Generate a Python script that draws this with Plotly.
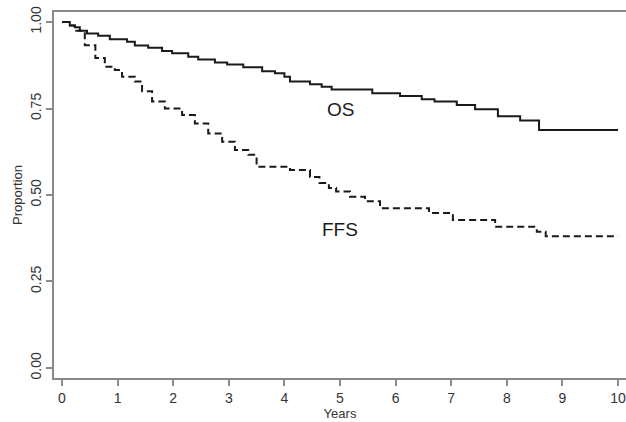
import plotly.graph_objects as go

# Kaplan-Meier step estimates
os_years = [0, 0.14, 0.23, 0.32, 0.45, 0.65, 0.86, 1.17, 1.31, 1.55, 1.8, 1.98, 2.27, 2.45, 2.75, 2.97,
            3.26, 3.6, 3.83, 4.0, 4.1, 4.46, 4.67, 4.85, 5.58, 6.08, 6.47, 6.7, 7.1, 7.43, 7.84,
            8.24, 8.58, 10.0]
os_surv = [1.0, 0.99, 0.985, 0.975, 0.967, 0.96, 0.95, 0.943, 0.932, 0.926, 0.916, 0.91, 0.9, 0.892, 0.883, 0.877,
           0.869, 0.858, 0.852, 0.842, 0.828, 0.82, 0.813, 0.805, 0.794, 0.786, 0.777, 0.77, 0.76, 0.748, 0.728,
           0.715, 0.688, 0.688]

ffs_years = [0, 0.15, 0.23, 0.41, 0.6, 0.77, 0.95, 1.08, 1.31, 1.44, 1.62, 1.85, 2.16, 2.39, 2.63, 2.88,
             3.11, 3.35, 3.5, 4.1, 4.46, 4.63, 4.8, 4.93, 5.18, 5.45, 5.72, 6.6, 7.03, 7.79, 8.54, 8.7, 10.0]
ffs_surv = [1.0, 0.99, 0.975, 0.933, 0.896, 0.871, 0.861, 0.842, 0.828, 0.8, 0.77, 0.75, 0.731, 0.707, 0.678, 0.654,
            0.63, 0.616, 0.582, 0.572, 0.552, 0.535, 0.52, 0.51, 0.495, 0.482, 0.462, 0.448, 0.428, 0.408, 0.394, 0.381, 0.381]

x_ticks = [0, 1, 2, 3, 4, 5, 6, 7, 8, 9, 10]
y_ticks = [0, 0.25, 0.5, 0.75, 1.0]
y_tick_labels = ["0.00", "0.25", "0.50", "0.75", "1.00"]

labels = ["OS", "FFS"]
label_x = [5.0, 5.0]
label_y = [0.746, 0.399]

FONT = "Liberation Sans, Arial, Helvetica, sans-serif"
AXIS_COLOR = "#8a8a8a"

fig = go.Figure()
fig.add_trace(go.Scatter(x=os_years, y=os_surv, mode="lines", line_shape="hv",
                         line=dict(color="#1a1a1a", width=2), name="OS", showlegend=False))
fig.add_trace(go.Scatter(x=ffs_years, y=ffs_surv, mode="lines", line_shape="hv",
                         line=dict(color="#1a1a1a", width=2, dash="7px,4px"), name="FFS", showlegend=False))

for t, xx, yy in zip(labels, label_x, label_y):
    fig.add_annotation(x=xx, y=yy, text=t, showarrow=False,
                       font=dict(family=FONT, size=19, color="#1a1a1a"))

fig.update_layout(
    width=626, height=422,
    margin=dict(l=54, r=0, t=12, b=44),
    paper_bgcolor="white", plot_bgcolor="white",
    font=dict(family=FONT, size=13, color="#333333"),
    xaxis=dict(range=[-0.144, 10.144], tickvals=x_ticks, ticks="outside", ticklen=6,
               tickcolor=AXIS_COLOR, tickwidth=1.5, showline=True, linecolor=AXIS_COLOR, linewidth=1.5,
               mirror=True, showgrid=False, zeroline=False, automargin=False,
               ticklabeloverflow="allow",
               title=dict(text="Years", font=dict(size=13), standoff=0),
               tickfont=dict(size=14)),
    yaxis=dict(range=[-0.029, 1.029], tickvals=y_ticks, ticktext=y_tick_labels, ticks="outside",
               ticklen=6, tickcolor=AXIS_COLOR, tickwidth=1.5, showline=True, linecolor=AXIS_COLOR,
               linewidth=1.5, mirror=True, showgrid=False, zeroline=False, tickangle=-90, automargin=False,
               ticklabeloverflow="allow",
               title=dict(text="Proportion", font=dict(size=13), standoff=2),
               tickfont=dict(size=14)),
)

# remove the default 8px page margin so the figure fills the window exactly
fig.write_html("out.html", config={"displayModeBar": False},
               post_script="document.body.style.margin='0px';")
